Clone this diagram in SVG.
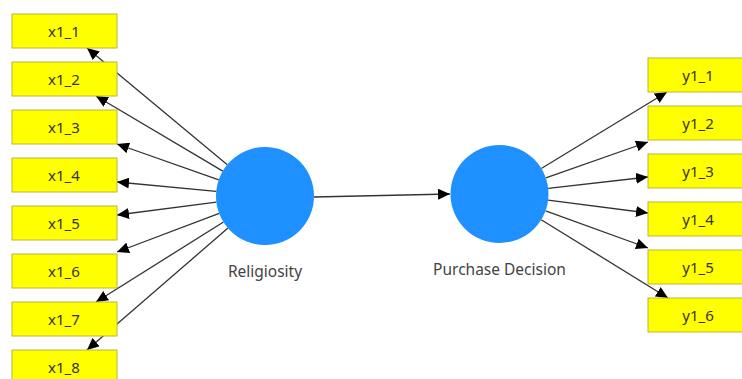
<svg xmlns="http://www.w3.org/2000/svg" width="742" height="379" viewBox="0 0 742 379">
<style>
.ind rect{fill:#FFFF00;stroke:#B8B83C;stroke-width:1}
.ind text{font-family:"Noto Sans","Open Sans",sans-serif;font-size:15px;fill:#333;text-anchor:middle}
.lv circle{fill:#1E90FF}
.lv text{font-family:"Noto Sans","Open Sans",sans-serif;font-size:15.5px;fill:#444;text-anchor:middle}
#connectors line{stroke:#333;stroke-width:1.3;marker-end:url(#ah)}
</style>
<defs>
<marker id="ah" markerUnits="userSpaceOnUse" markerWidth="13" markerHeight="11" refX="12" refY="5.5" orient="auto">
<path d="M0,0 L12,5.5 L0,11 Z" fill="#000"/>
</marker>
</defs>
<rect width="742" height="379" fill="#fff"/>
<g id="connectors">
<line x1="227.3" y1="164.7" x2="87" y2="48"/>
<line x1="222.8" y1="171.1" x2="96" y2="96"/>
<line x1="218.8" y1="179.8" x2="117" y2="144"/>
<line x1="216.2" y1="191.4" x2="117" y2="182"/>
<line x1="216.4" y1="202.2" x2="117" y2="215"/>
<line x1="219.2" y1="213.3" x2="117" y2="252"/>
<line x1="223.5" y1="222" x2="96" y2="302"/>
<line x1="228" y1="228" x2="87" y2="350"/>
<line x1="314" y1="197" x2="450" y2="194"/>
<line x1="541.3" y1="168.5" x2="667" y2="92"/>
<line x1="545.8" y1="177.8" x2="648" y2="142"/>
<line x1="548.2" y1="188.4" x2="648" y2="177"/>
<line x1="548.1" y1="200.2" x2="648" y2="213"/>
<line x1="545.6" y1="210.8" x2="648" y2="248"/>
<line x1="541.2" y1="219.7" x2="668" y2="298"/>
</g>
<g id="x1_1" class="ind"><rect x="12" y="14" width="105" height="34"/><text x="64" y="37">x1_1</text></g>
<g id="x1_2" class="ind"><rect x="12" y="62" width="105" height="34"/><text x="64" y="85">x1_2</text></g>
<g id="x1_3" class="ind"><rect x="12" y="110" width="105" height="34"/><text x="64" y="133">x1_3</text></g>
<g id="x1_4" class="ind"><rect x="12" y="158" width="105" height="34"/><text x="64" y="181">x1_4</text></g>
<g id="x1_5" class="ind"><rect x="12" y="206" width="105" height="34"/><text x="64" y="229">x1_5</text></g>
<g id="x1_6" class="ind"><rect x="12" y="254" width="105" height="34"/><text x="64" y="277">x1_6</text></g>
<g id="x1_7" class="ind"><rect x="12" y="302" width="105" height="34"/><text x="64" y="325">x1_7</text></g>
<g id="x1_8" class="ind"><rect x="12" y="350" width="105" height="34"/><text x="64" y="373">x1_8</text></g>
<g id="y1_1" class="ind"><rect x="648" y="58" width="105" height="34"/><text x="698" y="81">y1_1</text></g>
<g id="y1_2" class="ind"><rect x="648" y="106" width="105" height="34"/><text x="698" y="129">y1_2</text></g>
<g id="y1_3" class="ind"><rect x="648" y="154" width="105" height="34"/><text x="698" y="177">y1_3</text></g>
<g id="y1_4" class="ind"><rect x="648" y="202" width="105" height="34"/><text x="698" y="225">y1_4</text></g>
<g id="y1_5" class="ind"><rect x="648" y="250" width="105" height="34"/><text x="698" y="273">y1_5</text></g>
<g id="y1_6" class="ind"><rect x="648" y="298" width="105" height="34"/><text x="698" y="321">y1_6</text></g>
<g id="religiosity" class="lv"><circle cx="265" cy="196" r="49"/><text x="265" y="277">Religiosity</text></g>
<g id="purchase_decision" class="lv"><circle cx="499.5" cy="194" r="49"/><text x="499.5" y="275">Purchase Decision</text></g>
</svg>
